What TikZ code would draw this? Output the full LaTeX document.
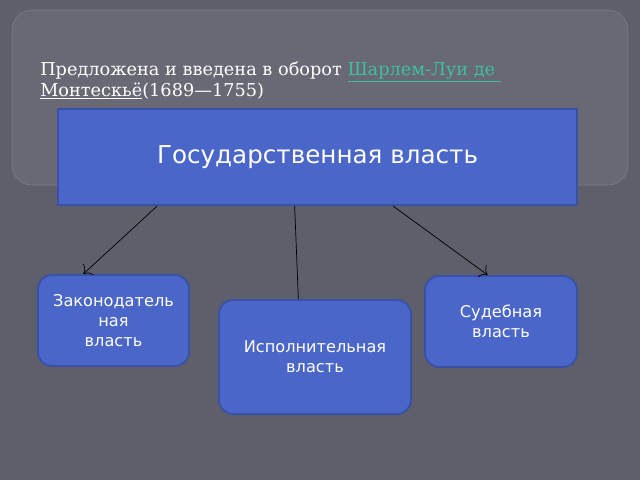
\documentclass[tikz,border=0pt]{standalone}
\usepackage{fontspec}
\setmainfont{DejaVu Serif}
\newfontfamily\boxfont{DejaVu Sans}
\usetikzlibrary{arrows.meta}

\definecolor{slidebg}{HTML}{5E5F6A}
\definecolor{panelbg}{HTML}{686974}
\definecolor{paneledge}{HTML}{7C7D88}
\definecolor{boxfill}{HTML}{4A66C8}
\definecolor{boxedge}{HTML}{3A52A6}
\definecolor{linkcol}{HTML}{3FBF9C}

\tikzset{
    powerbox/.style={draw=boxedge, line width=1.4pt, fill=boxfill, text=white,
        rounded corners=0.35cm, align=center, font=\boxfont\fontsize{11.5}{14}\selectfont},
    link/.style={black, line width=0.5pt},
}

\begin{document}
\begin{tikzpicture}[x=0.025cm, y=-0.025cm]

    % Background of the slide
    \fill[slidebg] (0,0) rectangle (640,480);
    \useasboundingbox (0,0) rectangle (640,480);

    % Title panel
    \draw[paneledge, fill=panelbg, rounded corners=0.5cm] (12,10) rectangle (628,185);

    % Intro text (baseline of the last line)
    \node[anchor=base west, inner sep=0pt, align=left, text=white,
        font=\fontsize{12.6}{14.9}\selectfont] (intro) at (40,96)
        {Предложена и введена в оборот \textcolor{linkcol}{\underline{Шарлем-Луи де\ }}\\
         \underline{Монтескьё}(1689—1755)};

    % Main box
    \node[powerbox, rounded corners=0pt, minimum width=12.975cm, minimum height=2.4cm,
        font=\boxfont\fontsize{17.5}{20}\selectfont] (gov) at (317.5,157) {Государственная власть};

    % The three branches
    \node[powerbox, minimum width=3.775cm, minimum height=2.275cm] (legis) at (113.5,320.5)
        {Законодатель\\ная\\власть};
    \node[powerbox, minimum width=4.8cm, minimum height=2.85cm] (exec) at (315,357)
        {Исполнительная\\власть};
    \node[powerbox, minimum width=3.8cm, minimum height=2.275cm] (judic) at (501,321.5)
        {Судебная\\власть};

    % Connectors
    \draw[link, -{To[length=5pt]}] (gov.197) -- (legis.123);
    \draw[link] (gov.245) -- (exec.106);
    \draw[link, -{To[length=5pt]}] (gov.327) -- (judic.106);

\end{tikzpicture}
\end{document}
